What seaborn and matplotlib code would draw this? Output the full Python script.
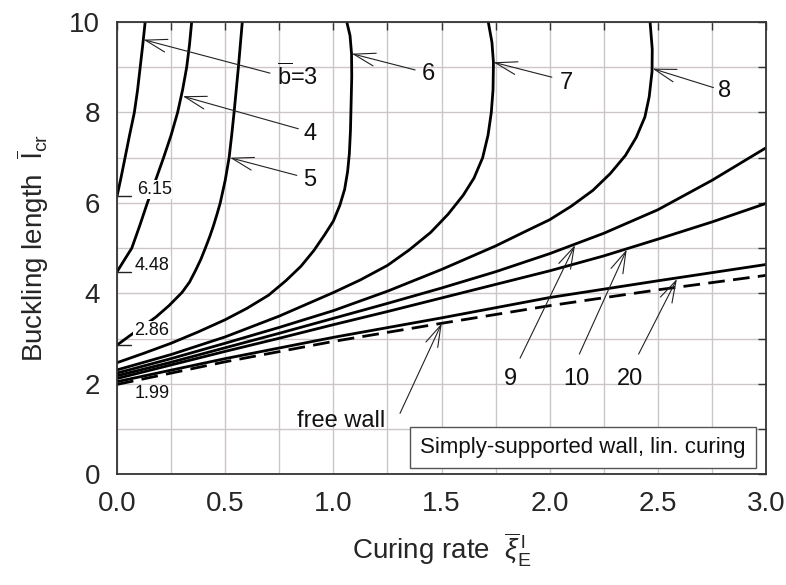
import numpy as np
import pandas as pd
import matplotlib
matplotlib.use("Agg")
import matplotlib.pyplot as plt
import seaborn as sns

# ---------------- data ----------------
curve_names = ["3", "4", "5", "6", "7", "8", "9", "10", "20", "free wall"]

x_b3 = [0.0, 0.018, 0.037, 0.058, 0.08, 0.095, 0.107, 0.119, 0.13]
y_b3 = [6.15, 6.55, 7.0, 7.5, 8.0, 8.5, 9.0, 9.5, 10.0]

x_b4 = [0.0, 0.035, 0.068, 0.105, 0.14, 0.178, 0.215, 0.25, 0.28, 0.303, 0.322, 0.335, 0.345]
y_b4 = [4.48, 4.75, 5.0, 5.5, 6.0, 6.5, 7.0, 7.5, 8.0, 8.5, 9.0, 9.5, 10.0]

x_b5 = [0.0, 0.06, 0.12, 0.18, 0.24, 0.30, 0.335, 0.362, 0.387, 0.408, 0.428, 0.446, 0.462,
        0.477, 0.50, 0.518, 0.53, 0.541, 0.551, 0.561, 0.57, 0.579]
y_b5 = [2.86, 3.07, 3.27, 3.48, 3.73, 4.02, 4.25, 4.5, 4.75, 5.0, 5.25, 5.5, 5.75,
        6.0, 6.5, 7.0, 7.5, 8.0, 8.5, 9.0, 9.5, 10.0]

x_b6 = [0.0, 0.125, 0.25, 0.375, 0.5, 0.6, 0.7, 0.78, 0.85, 0.91, 0.96, 1.0, 1.03, 1.052,
        1.066, 1.074, 1.079, 1.082, 1.085, 1.084, 1.077, 1.062]
y_b6 = [2.47, 2.68, 2.9, 3.15, 3.42, 3.67, 3.96, 4.28, 4.6, 4.95, 5.3, 5.6, 5.95, 6.3,
        6.7, 7.1, 7.6, 8.2, 8.8, 9.3, 9.7, 10.0]

x_b7 = [0.0, 0.25, 0.5, 0.75, 1.0, 1.125, 1.25, 1.35, 1.45, 1.53, 1.6, 1.65, 1.69, 1.715,
        1.73, 1.738, 1.74, 1.733, 1.716]
y_b7 = [2.31, 2.65, 3.04, 3.5, 4.02, 4.3, 4.62, 4.96, 5.35, 5.75, 6.17, 6.55, 7.0, 7.5,
        8.0, 8.5, 9.1, 9.55, 10.0]

x_b8 = [0.0, 0.25, 0.5, 0.75, 1.0, 1.25, 1.5, 1.75, 1.9, 2.0, 2.1, 2.2, 2.28, 2.35, 2.4,
        2.44, 2.46, 2.473, 2.474, 2.464]
y_b8 = [2.24, 2.56, 2.9, 3.25, 3.62, 4.05, 4.53, 5.05, 5.4, 5.63, 5.93, 6.28, 6.65, 7.05, 7.45,
        7.9, 8.35, 8.9, 9.4, 10.0]

x_b9 = [0.0, 0.25, 0.5, 0.75, 1.0, 1.25, 1.5, 1.75, 2.0, 2.25, 2.5, 2.75, 3.0]
y_b9 = [2.18, 2.48, 2.8, 3.12, 3.45, 3.78, 4.12, 4.48, 4.88, 5.33, 5.85, 6.5, 7.22]

x_b10 = [0.0, 0.25, 0.5, 0.75, 1.0, 1.25, 1.5, 1.75, 2.0, 2.25, 2.5, 2.75, 3.0]
y_b10 = [2.12, 2.42, 2.72, 3.01, 3.31, 3.6, 3.9, 4.2, 4.5, 4.83, 5.2, 5.58, 5.99]

x_b20 = [0.0, 0.5, 1.0, 1.5, 2.0, 2.5, 3.0]
y_b20 = [2.05, 2.56, 3.03, 3.46, 3.91, 4.28, 4.64]

x_free = [0.0, 0.5, 1.0, 1.5, 2.0, 2.5, 3.0]
y_free = [1.99, 2.49, 2.94, 3.34, 3.73, 4.08, 4.40]

start_labels = ["6.15", "4.48", "2.86", "1.99"]
start_values = [6.15, 4.48, 2.86, 1.99]

x_ticks = [0.0, 0.5, 1.0, 1.5, 2.0, 2.5, 3.0]
y_ticks = [0, 2, 4, 6, 8, 10]

# ---------------- style ----------------
sns.set_theme(style="white")
plt.rcParams["font.family"] = ["Liberation Sans", "DejaVu Sans"]
plt.rcParams["mathtext.fontset"] = "custom"
plt.rcParams["mathtext.rm"] = "Liberation Sans"
plt.rcParams["mathtext.it"] = "Liberation Sans:italic"
plt.rcParams["mathtext.bf"] = "Liberation Sans:bold"

fig = plt.figure(figsize=(7.86, 5.85), dpi=100)
ax = fig.add_axes([0.1489, 0.189, 0.8257, 0.7734])

solid = [(x_b3, y_b3), (x_b4, y_b4), (x_b5, y_b5), (x_b6, y_b6), (x_b7, y_b7),
         (x_b8, y_b8), (x_b9, y_b9), (x_b10, y_b10), (x_b20, y_b20)]
frames = []
for name, (xs, ys) in zip(curve_names[:-1], solid):
    frames.append(pd.DataFrame({"x": xs, "y": ys, "curve": name}))
df = pd.concat(frames, ignore_index=True)
df_free = pd.DataFrame({"x": x_free, "y": y_free, "curve": "free wall"})

sns.lineplot(data=df, x="x", y="y", units="curve", estimator=None, sort=False,
             color="black", lw=2.0, ax=ax, legend=False)
sns.lineplot(data=df_free, x="x", y="y", estimator=None, sort=False,
             color="black", lw=2.0, ax=ax, legend=False)
ax.lines[-1].set_dashes([6, 3])
for ln in ax.lines:
    ln.set_solid_joinstyle("round")

ax.set_xlim(0, 3.0)
ax.set_ylim(0, 10)
ax.set_xticks(x_ticks)
ax.set_xticklabels([f"{v:.1f}" for v in x_ticks])
ax.set_yticks(y_ticks)
ax.set_yticklabels([str(v) for v in y_ticks])
ax.set_xticks(np.arange(0, 3.01, 0.25), minor=True)
ax.set_yticks(np.arange(0, 10.01, 1), minor=True)
ax.grid(True, which="both", color="#cdc6c6", lw=1.0)
ax.set_axisbelow(True)
ax.tick_params(which="both", direction="in", top=True, right=True,
               length=6, width=1.0, color="#333333", labelsize=20, pad=12)
for s in ax.spines.values():
    s.set_color("#333333")
    s.set_linewidth(1.3)

ax.set_xlabel(r"Curing rate  $\overline{\xi}_{\mathrm{E}}^{\,\mathrm{l}}$", fontsize=20, labelpad=10)
ax.set_ylabel(r"Buckling length  $\overline{\mathrm{l}}_{\mathrm{cr}}$", fontsize=20, labelpad=13)

# arrows with labels
arw = dict(arrowstyle="->,head_length=0.6,head_width=0.18", lw=0.8, color="#222222",
           mutation_scale=26, shrinkA=0, shrinkB=0)
annots = [
    (r"$\overline{\mathrm{b}}$=3", (0.122, 9.61), (0.707, 8.87), (0.835, 8.80)),
    ("4", (0.304, 8.36), (0.838, 7.64), (0.892, 7.52)),
    ("5", (0.522, 7.0), (0.831, 6.61), (0.889, 6.50)),
    ("6", (1.085, 9.30), (1.378, 8.94), (1.44, 8.84)),
    ("7", (1.74, 9.11), (2.01, 8.78), (2.079, 8.65)),
    ("8", (2.475, 8.97), (2.757, 8.55), (2.81, 8.47)),
    ("9", (2.117, 5.07), (1.863, 2.57), (1.817, 2.12)),
    ("10", (2.356, 4.97), (2.137, 2.66), (2.125, 2.12)),
    ("20", (2.588, 4.32), (2.411, 2.66), (2.372, 2.12)),
    ("free wall", (1.501, 3.34), (1.308, 1.35), (1.034, 1.17)),
]
for txt, tip, tail, tpos in annots:
    ax.annotate("", xy=tip, xytext=tail, arrowprops=arw)
    ax.text(tpos[0], tpos[1], txt, fontsize=17, ha="center", va="center", color="#111111")

# start-value labels with leaders
lab_pos = [(0.091, 6.30), (0.083, 4.61), (0.078, 3.19), (0.083, 1.78)]
for lab, val, (tx, ty) in zip(start_labels, start_values, lab_pos):
    if lab != "1.99":
        ax.plot([0, 0.065], [val, val], color="#222222", lw=1.0)
    ax.text(tx, ty, lab, fontsize=13, ha="left", va="center", color="#111111",
            bbox=dict(facecolor="white", edgecolor="none", pad=0.5))

ax.text(2.153, 0.59, "Simply-supported wall, lin. curing", fontsize=16, ha="center", va="center",
        color="#111111",
        bbox=dict(boxstyle="square,pad=0.45", facecolor="white", edgecolor="#555555", lw=1.0))

fig.savefig("out.png", dpi=100)
